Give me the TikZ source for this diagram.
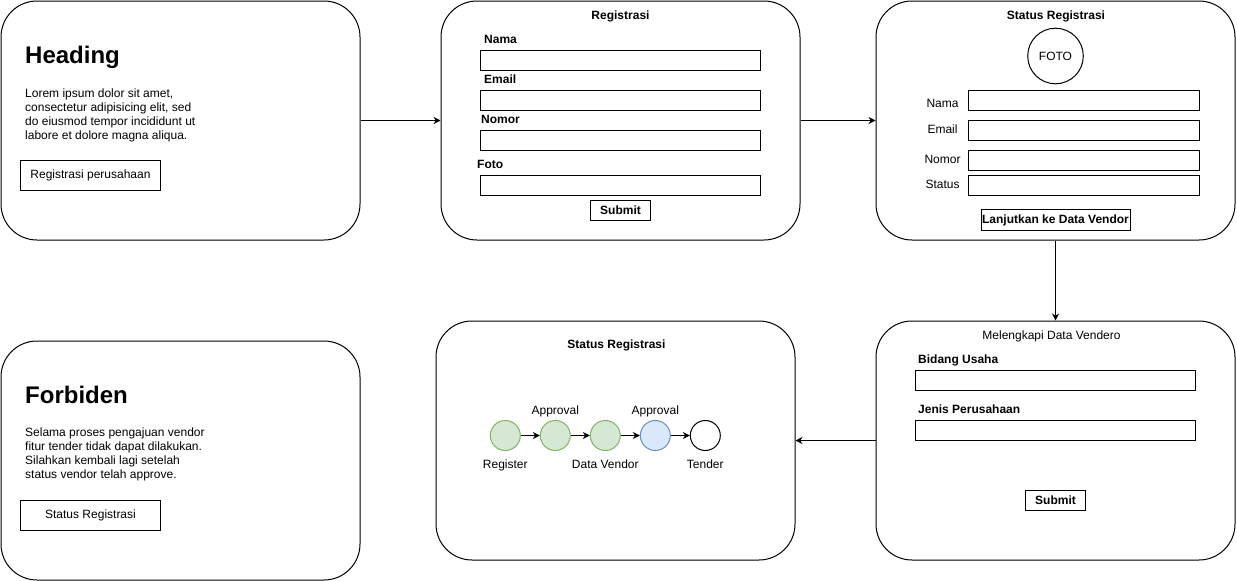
\documentclass[tikz,border=0pt]{standalone}
\usepackage{fontspec}
\setmainfont{Liberation Sans}
\usetikzlibrary{arrows.meta}
\definecolor{gfill}{HTML}{D5E8D4}
\definecolor{gline}{HTML}{82B366}
\definecolor{bfill}{HTML}{DAE8FC}
\definecolor{bline}{HTML}{6C8EBF}
\begin{document}
\begin{tikzpicture}[x=1pt,y=-1pt,
  card/.style={draw, line width=1pt, rounded corners=36pt, minimum width=359pt, minimum height=239pt, inner sep=0pt},
  field/.style={draw, line width=1pt, inner sep=0pt, anchor=north west},
  btn/.style={draw, line width=1pt, inner sep=0pt, font=\fontsize{12}{14}\selectfont},
  txt/.style={font=\fontsize{12}{14}\selectfont, inner sep=0pt},
  btxt/.style={font=\fontsize{12}{14}\selectfont\bfseries, inner sep=0pt},
  head/.style={font=\fontsize{24}{28}\selectfont\bfseries, inner sep=0pt, anchor=base west},
  para/.style={font=\fontsize{12}{14}\selectfont, inner sep=0pt, align=left, anchor=north west},
  arr/.style={-{Stealth[length=7pt,width=7pt]}, line width=1pt},
  dot/.style={circle, draw, line width=1pt, minimum size=30pt, inner sep=0pt}]
\path[use as bounding box, fill=white] (0,0) rectangle (1237,581);

% cards
\node[card] (c1) at (180.5,120.5) {};
\node[card] (c2) at (620.5,120.5) {};
\node[card] (c3) at (1055.5,120.5) {};
\node[card] (c4) at (180.5,460.5) {};
\node[card] (c5) at (615.5,440.5) {};
\node[card] (c6) at (1055.5,440.5) {};

% card 1
\node[head] (h1) at (25,63) {Heading};
\node[para] (p1) at (25,88.7) {Lorem ipsum dolor sit amet,\\consectetur adipisicing elit, sed\\do eiusmod tempor incididunt ut\\labore et dolore magna aliqua.};
\node[btn, minimum width=140pt, minimum height=30pt] (b1) at (90.5,175.5) {Registrasi perusahaan};

% card 2
\node[btxt, anchor=base] (t2) at (620.5,19) {Registrasi};
\node[btxt, anchor=base west] (l21) at (484,43.5) {Nama};
\node[field, minimum width=280pt, minimum height=20pt] (f21) at (480,50) {};
\node[btxt, anchor=base west] (l22) at (484,83.5) {Email};
\node[field, minimum width=280pt, minimum height=20pt] (f22) at (480,90) {};
\node[btxt, anchor=base west] (l23) at (481,123.5) {Nomor};
\node[field, minimum width=280pt, minimum height=20pt] (f23) at (480,130) {};
\node[btxt, anchor=base west] (l24) at (477,168.5) {Foto};
\node[field, minimum width=280pt, minimum height=20pt] (f24) at (480,175) {};
\node[btn, minimum width=60pt, minimum height=20pt, font=\fontsize{12}{14}\selectfont\bfseries] (b2) at (620.5,210) {Submit};

% card 3
\node[btxt, anchor=base] (t3) at (1056,19) {Status Registrasi};
\node[dot, minimum size=55.6pt, font=\fontsize{12}{14}\selectfont] (foto) at (1055.5,56) {FOTO};
\node[txt, anchor=base] (l31) at (942.5,107.3) {Nama};
\node[field, minimum width=231pt, minimum height=20pt] (f31) at (968,90) {};
\node[txt, anchor=base] (l32) at (942.5,133.3) {Email};
\node[field, minimum width=231pt, minimum height=20pt] (f32) at (968,120) {};
\node[txt, anchor=base] (l33) at (942.5,163.3) {Nomor};
\node[field, minimum width=231pt, minimum height=20pt] (f33) at (968,150) {};
\node[txt, anchor=base] (l34) at (942.5,188.3) {Status};
\node[field, minimum width=231pt, minimum height=20pt] (f34) at (968,175) {};
\node[btn, minimum width=149pt, minimum height=21pt, font=\fontsize{12}{14}\selectfont\bfseries] (b3) at (1055.5,220) {Lanjutkan ke Data Vendor};

% card 4
\node[head] (h4) at (25,403.3) {Forbiden};
\node[para] (p4) at (25,427.8) {Selama proses pengajuan vendor\\fitur tender tidak dapat dilakukan.\\Silahkan kembali lagi setelah\\status vendor telah approve.};
\node[btn, minimum width=140pt, minimum height=30pt] (b4) at (90.5,515.5) {Status Registrasi};

% card 5
\node[btxt, anchor=base] (t5) at (616.5,348.3) {Status Registrasi};
\node[dot, draw=gline, fill=gfill] (s1) at (505.3,435.5) {};
\node[dot, draw=gline, fill=gfill] (s2) at (555.3,435.5) {};
\node[dot, draw=gline, fill=gfill] (s3) at (605.3,435.5) {};
\node[dot, draw=bline, fill=bfill] (s4) at (655.3,435.5) {};
\node[dot, draw=black, fill=white] (s5) at (705.3,435.5) {};
\draw[arr] (s1) -- (s2);
\draw[arr] (s2) -- (s3);
\draw[arr] (s3) -- (s4);
\draw[arr] (s4) -- (s5);
\node[txt, anchor=base] (a2) at (555.3,414) {Approval};
\node[txt, anchor=base] (a4) at (655.3,414) {Approval};
\node[txt, anchor=base] (r1) at (505.3,468.3) {Register};
\node[txt, anchor=base] (r3) at (605.3,468.3) {Data Vendor};
\node[txt, anchor=base] (r5) at (705.3,468.3) {Tender};

% card 6
\node[txt, anchor=base] (t6) at (1051.5,339) {Melengkapi Data Vendero};
\node[btxt, anchor=base west] (l61) at (918,363.3) {Bidang Usaha};
\node[field, minimum width=280pt, minimum height=20pt] (f61) at (915,370) {};
\node[btxt, anchor=base west] (l62) at (918,413.3) {Jenis Perusahaan};
\node[field, minimum width=280pt, minimum height=20pt] (f62) at (915,420) {};
\node[btn, minimum width=60pt, minimum height=20pt, font=\fontsize{12}{14}\selectfont\bfseries] (b6) at (1055.5,500) {Submit};

% connectors
\draw[arr] (c1.east) -- (c2.west);
\draw[arr] (c2.east) -- (c3.west);
\draw[arr] (c3.south) -- (c6.north);
\draw[arr] (c6.west) -- (c5.east);
\end{tikzpicture}
\end{document}
